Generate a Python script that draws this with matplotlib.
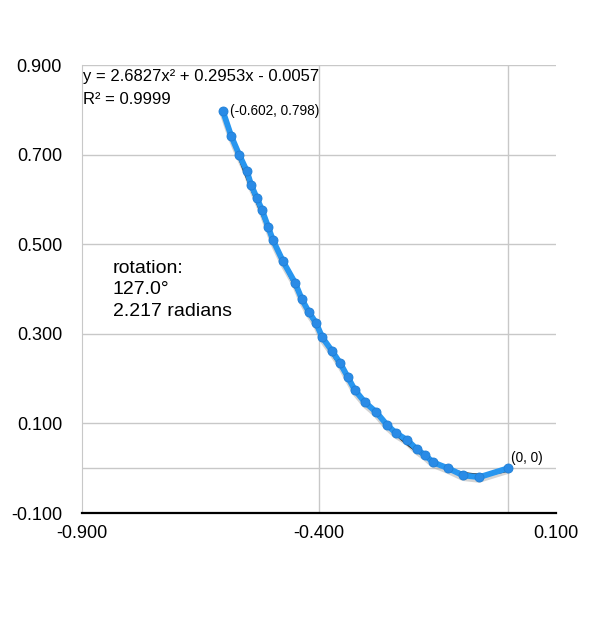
import numpy as np
import matplotlib.pyplot as plt

# Points (x, y)
xs = [-0.602, -0.584, -0.567, -0.551, -0.542, -0.530, -0.519, -0.506, -0.496,
      -0.475, -0.449, -0.435, -0.420, -0.405, -0.392, -0.371, -0.354, -0.338,
      -0.323, -0.302, -0.278, -0.255, -0.236, -0.213, -0.192, -0.175, -0.158,
      -0.127, -0.095, -0.061, 0.0]
ys = [0.798, 0.741, 0.699, 0.663, 0.632, 0.603, 0.576, 0.538, 0.509,
      0.462, 0.413, 0.377, 0.348, 0.324, 0.292, 0.261, 0.234, 0.203,
      0.174, 0.147, 0.125, 0.096, 0.078, 0.063, 0.042, 0.029, 0.013,
      0.000, -0.016, -0.020, 0.0]

# Trendline coefficients (quadratic) and fit quality
coeffs = [2.6827, 0.2953, -0.0057]
r_squared = 0.9999
rotation_deg = 127.0
rotation_rad = 2.217

x_ticks = [-0.9, -0.4, 0.1]
y_ticks = [-0.1, 0.1, 0.3, 0.5, 0.7, 0.9]

plt.rcParams['font.family'] = ['Liberation Sans', 'DejaVu Sans']

fig = plt.figure(figsize=(6.01, 6.2), dpi=100)
ax = fig.add_axes([81.5 / 601, 1 - 513 / 620, (555.5 - 81.5) / 601, (513 - 65) / 620])
ax.set_xlim(-0.9, 0.1)
ax.set_ylim(-0.1, 0.9)

# grid lines (major ticks plus the zero lines)
for gy in [0.0, 0.1, 0.3, 0.5, 0.7, 0.9]:
    ax.axhline(gy, color='#c8c8c8', lw=1, zorder=0)
for gx in [-0.4, 0.0]:
    ax.axvline(gx, color='#c8c8c8', lw=1, zorder=0)

for side in ['top', 'right']:
    ax.spines[side].set_visible(False)
ax.spines['left'].set_color('#c8c8c8')
ax.spines['bottom'].set_color('black')
ax.spines['bottom'].set_linewidth(1.6)

ax.set_xticks(x_ticks)
ax.set_xticklabels([f"{v:.3f}" for v in x_ticks])
ax.set_yticks(y_ticks)
ax.set_yticklabels([f"{v:.3f}" for v in y_ticks])
ax.tick_params(length=0, labelsize=13, pad=14)
ax.tick_params(axis='x', pad=9)
for lbl in ax.get_yticklabels():
    lbl.set_va('center_baseline')

# shadow under the series
shadow_off = 2.5 / 448
ax.plot(xs, np.array(ys) - shadow_off, color='#a0a0a0', lw=4.5, alpha=0.45,
        solid_capstyle='round', zorder=2)

# trendline
tx = np.linspace(min(xs), max(xs), 200)
ax.plot(tx, np.polyval(coeffs, tx), color='#333333', lw=1.3, zorder=3)

# series
ax.plot(xs, ys, color='#2896ef', lw=4.2, marker='o', ms=6.5, mfc='#2a8be6',
        mec='#1f7fd6', mew=0.6, solid_capstyle='round', zorder=4)

ax.annotate(f"({xs[0]:.3f}, {ys[0]:.3f})", (xs[0], ys[0]), xytext=(5, 0),
            textcoords='offset points', fontsize=9.8, va='center', ha='left')
ax.annotate("(0, 0)", (xs[-1], ys[-1]), xytext=(2, 7),
            textcoords='offset points', fontsize=9.8, va='center', ha='left')

eq = f"y = {coeffs[0]:.4f}x² + {coeffs[1]:.4f}x - {abs(coeffs[2]):.4f}"
fig.text(83 / 601, 1 - 77 / 620, eq, fontsize=12, va='center', ha='left')
fig.text(83 / 601, 1 - 100 / 620, f"R² = {r_squared:.4f}", fontsize=12,
         va='center', ha='left')

fig.text(113 / 601, 1 - 290 / 620,
         f"rotation:\n{rotation_deg:.1f}°\n{rotation_rad:.3f} radians",
         fontsize=14, va='center', ha='left', linespacing=1.32)

fig.savefig('out.png', dpi=100)
